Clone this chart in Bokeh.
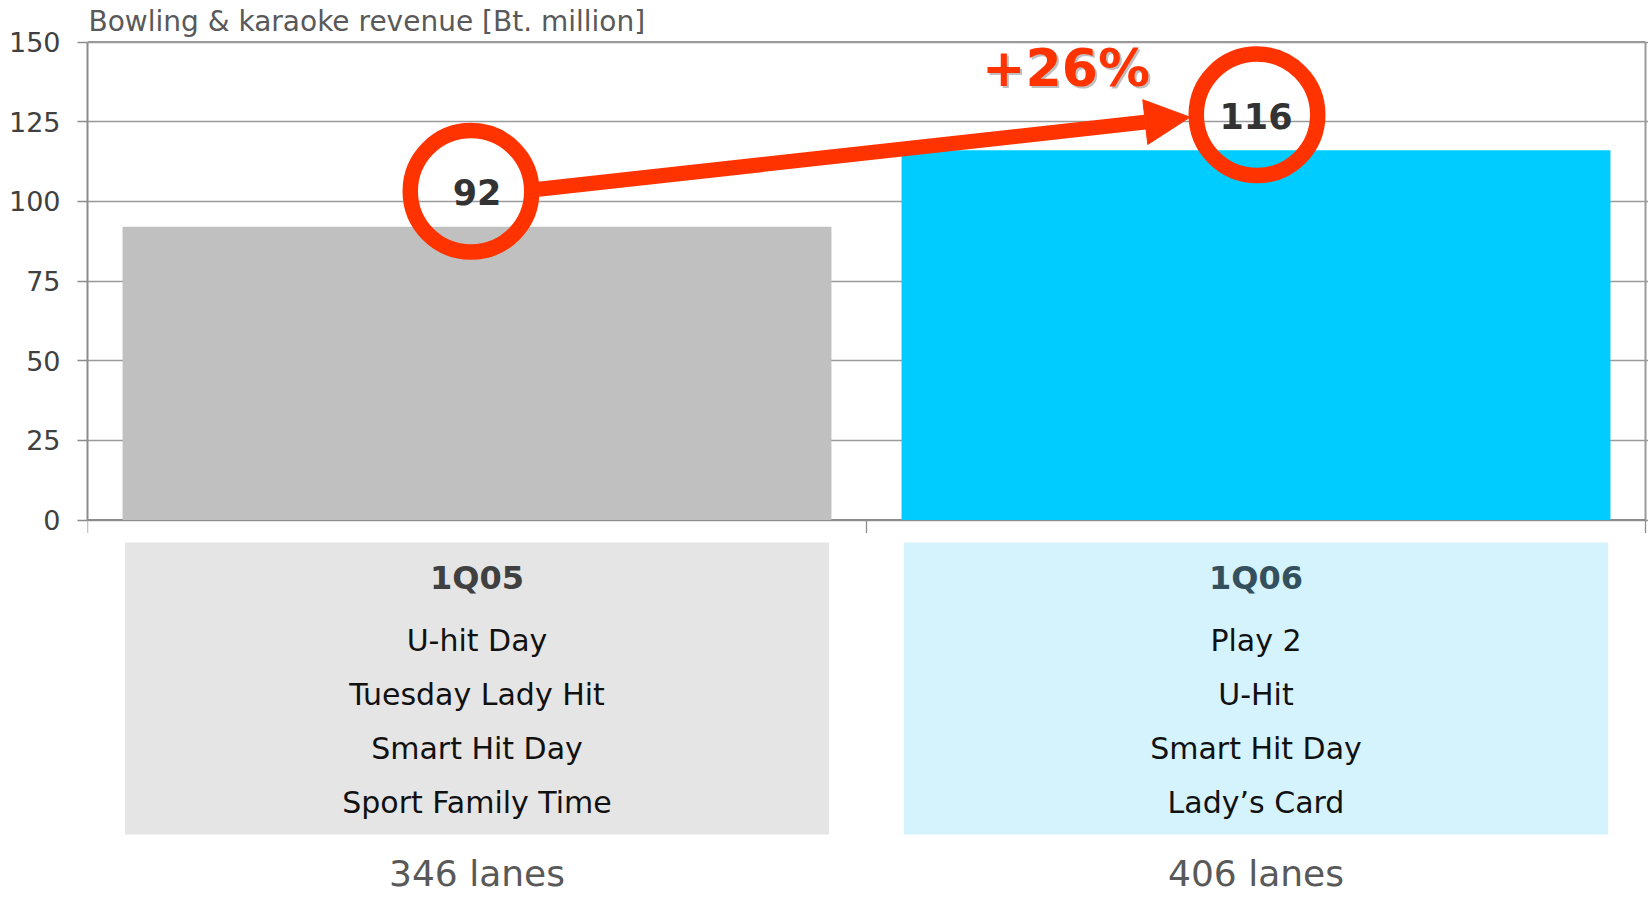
from bokeh.plotting import figure
from bokeh.models import Range1d, FixedTicker, Arrow, NormalHead
from bokeh.core.properties import value
from bokeh.embed import file_html
from bokeh.resources import INLINE

# ---------------- data ----------------
periods = ["1Q05", "1Q06"]
revenue = [92, 116]
lanes = [346, 406]
promotions_1q05 = ["U-hit Day", "Tuesday Lady Hit", "Smart Hit Day", "Sport Family Time"]
promotions_1q06 = ["Play 2", "U-Hit", "Smart Hit Day", "Lady\u2019s Card"]
y_ticks = [0, 25, 50, 75, 100, 125, 150]
chart_title = "Bowling & karaoke revenue [Bt. million]"

# ---------------- style ----------------
bar_colors = ["#C0C0C0", "#00CCFF"]
box_colors = ["#E5E5E5", "#D5F3FD"]
header_colors = ["#404040", "#34505C"]
RED = "#FF3300"
GRID = "#9A9A9A"
AXIS = "#8C8C8C"
FONT = "DejaVu Sans"

W, H = 1648, 901
LEFT = 87                 # frame left (px)
X_END_PX = 1645           # px of x = 2
Y_TOP_PX = 41.5           # px of y = 150
Y_ZERO_PX = 519.5         # px of y = 0
ppx = (X_END_PX - LEFT) / 2.0
ppu = (Y_ZERO_PX - Y_TOP_PX) / 150.0
y_hi = 150 + Y_TOP_PX / ppu
y_lo = -(H - Y_ZERO_PX) / ppu
x_hi = 2 + (W - X_END_PX) / ppx
BASE_SHIFT = 0.4          # rendered baseline correction, fraction of font size


def yfig(px):
    """pixel row -> data y"""
    return (Y_ZERO_PX - px) / ppu


def ybase(px, fs):
    """data y that puts a text baseline at pixel row px"""
    return yfig(px - BASE_SHIFT * fs)


def ylen(px):
    return px / ppu


def xlen(px):
    return px / ppx


xs = [0.5, 1.5]
promotions = [promotions_1q05, promotions_1q06]

p = figure(width=W, height=H, x_range=Range1d(0, x_hi), y_range=Range1d(y_lo, y_hi),
           x_axis_location=None, toolbar_location=None, output_backend="svg",
           min_border_left=LEFT, min_border_right=0, min_border_top=0, min_border_bottom=0)
p.outline_line_color = None
p.xgrid.visible = False
p.background_fill_color = "white"
p.border_fill_color = "white"

# y axis
p.yaxis.ticker = FixedTicker(ticks=y_ticks)
p.yaxis.bounds = (0, 150)
p.yaxis.axis_line_color = AXIS
p.yaxis.axis_line_width = 2
p.yaxis.major_tick_line_color = AXIS
p.yaxis.major_tick_line_width = 1.5
p.yaxis.major_tick_out = 10
p.yaxis.major_tick_in = 0
p.yaxis.minor_tick_line_color = None
p.yaxis.major_label_text_font = FONT
p.yaxis.major_label_text_font_size = "27px"
p.yaxis.major_label_text_color = "#404040"
p.yaxis.major_label_standoff = 17
p.ygrid.grid_line_color = GRID
p.ygrid.grid_line_width = 1.3

# frame borders
p.segment(x0=[0], y0=[150], x1=[2], y1=[150], line_color=GRID, line_width=2)
p.segment(x0=[2], y0=[0], x1=[2], y1=[150], line_color=GRID, line_width=2)
p.segment(x0=[0], y0=[0], x1=[2], y1=[0], line_color=AXIS, line_width=2)
p.segment(x0=[0, 1, 2], y0=[0, 0, 0], x1=[0, 1, 2], y1=[-ylen(13)] * 3,
          line_color=AXIS, line_width=1.3)

# bars
p.vbar(x=xs, top=revenue, width=0.91, bottom=0, fill_color=bar_colors, line_color=None)

# title
p.text(x=[0], y=[ybase(32, 28)], text=[chart_title], x_offset=1, text_font=value(FONT),
       text_font_size="28px", text_color="#595959", text_align="left",
       text_baseline="alphabetic")

# boxes below
box_half = 0.452
p.quad(left=[x - box_half for x in xs], right=[x + box_half for x in xs],
       top=[yfig(542)] * 2, bottom=[yfig(834)] * 2, fill_color=box_colors, line_color=None)

p.text(x=xs, y=[ybase(590, 32)] * 2, text=periods, text_font=value(FONT), text_font_size="32px",
       text_font_style="bold", text_color=header_colors, text_align="center",
       text_baseline="alphabetic")

item_rows = [652, 706, 760, 814]
for i, x in enumerate(xs):
    p.text(x=[x] * len(promotions[i]), y=[ybase(r, 30) for r in item_rows], text=promotions[i],
           text_font=value(FONT), text_font_size="30px", text_color="#111111",
           text_align="center", text_baseline="alphabetic")

p.text(x=xs, y=[ybase(887, 36)] * 2, text=[f"{n} lanes" for n in lanes], text_font=value(FONT),
       text_font_size="36px", text_color="#595959", text_align="center",
       text_baseline="alphabetic")

# highlight circles and value labels
circle_off = ylen(35.5)
ring_r = xlen(68.5)
circle_dx = [xlen(-6), xlen(1)]
cx = [x + d for x, d in zip(xs, circle_dx)]
cy = [v + circle_off for v in revenue]
p.scatter(x=cx, y=cy, marker="circle", size=121.5, fill_alpha=0,
          line_color=RED, line_width=15.5)
p.text(x=xs, y=[v + ylen(20.5 + BASE_SHIFT * 35) for v in revenue], text=[str(v) for v in revenue],
       text_font=value(FONT), text_font_size="35px", text_font_style="bold",
       text_color="#333333", text_align="center", text_baseline="alphabetic")

# growth arrow
p.add_layout(Arrow(x_start=cx[0] + ring_r - xlen(1), y_start=cy[0] + ylen(2),
                   x_end=cx[1] - ring_r + xlen(1.5), y_end=cy[1] - ylen(2.3),
                   line_color=RED, line_width=15,
                   end=NormalHead(size=45, fill_color=RED, line_color=RED, line_width=1)))

growth = round((revenue[1] / revenue[0] - 1) * 100)
growth_label = f"+{growth}%"
gx = xs[1] - xlen(190)
gy = ybase(88, 52)
p.text(x=[gx], y=[gy], text=[growth_label], x_offset=2, y_offset=2, text_font=value(FONT),
       text_font_size="52px", text_font_style="bold", text_color="#BFBFBF",
       text_align="center", text_baseline="alphabetic")
p.text(x=[gx], y=[gy], text=[growth_label], text_font=value(FONT),
       text_font_size="52px", text_font_style="bold", text_color=RED,
       text_align="center", text_baseline="alphabetic")

open("out.html", "w").write(file_html(p, INLINE))
